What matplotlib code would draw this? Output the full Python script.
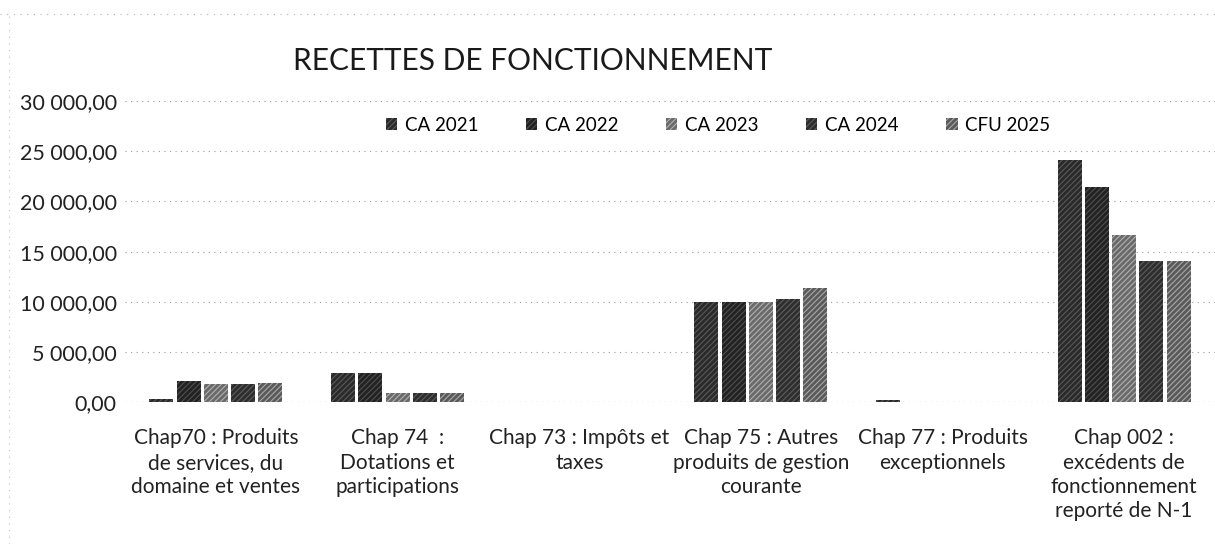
import matplotlib
matplotlib.use("Agg")
import matplotlib.pyplot as plt
import numpy as np
from matplotlib.ticker import FuncFormatter

plt.rcParams['font.family'] = ['Lato', 'DejaVu Sans']
plt.rcParams['hatch.linewidth'] = 0.8

# data
categories = [
    "Chap70 : Produits\nde services, du\ndomaine et ventes",
    "Chap 74  :\nDotations et\nparticipations",
    "Chap 73 : Impôts et\ntaxes",
    "Chap 75 : Autres\nproduits de gestion\ncourante",
    "Chap 77 : Produits\nexceptionnels",
    "Chap 002 :\nexcédents de\nfonctionnement\nreporté de N-1",
]
series = ["CA 2021", "CA 2022", "CA 2023", "CA 2024", "CFU 2025"]
ca_2021 = [300, 2850, 0, 9950, 200, 24150]
ca_2022 = [2100, 2850, 0, 9950, 0, 21400]
ca_2023 = [1750, 850, 0, 9950, 0, 16650]
ca_2024 = [1800, 850, 0, 10300, 0, 14100]
cfu_2025 = [1900, 850, 0, 11400, 0, 14100]
values = [ca_2021, ca_2022, ca_2023, ca_2024, cfu_2025]

colors = ['#2a2a2a', '#222222', '#6a6a6a', '#2e2e2e', '#5a5a5a']
hatch_colors = ['#5a5a5a', '#505050', '#b0b0b0', '#5e5e5e', '#a8a8a8']

fig = plt.figure(figsize=(12.15, 5.44), dpi=100)
ax = fig.add_axes([0.103, 0.261, 0.897, 0.553])

x = np.arange(len(categories))
w = 0.15
for i, (name, vals) in enumerate(zip(series, values)):
    ax.bar(x + (i - 2) * w, vals, width=w * 0.88, color=colors[i],
           edgecolor=hatch_colors[i], linewidth=0, hatch='//////', label=name)

ax.set_xlim(-0.5, len(categories) - 0.5)
ax.set_ylim(0, 30000)
ax.set_yticks(np.arange(0, 30001, 5000))
ax.yaxis.set_major_formatter(FuncFormatter(
    lambda v, p: f"{v:,.2f}".replace(",", " ").replace(".", ",")))
ax.set_xticks(x)
ax.set_xticklabels(categories, fontsize=15, color='#222222', linespacing=1.27)
ax.tick_params(axis='y', labelsize=15.5, labelcolor='#222222', length=0, pad=6)
ax.tick_params(axis='x', length=0, pad=19)

ax.grid(axis='y', color='#9a9a9a', linestyle=(0, (1, 4)), linewidth=0.8)
ax.set_axisbelow(True)
for s in ax.spines.values():
    s.set_visible(False)
ax.axhline(0, color='#9a9a9a', linestyle=(0, (1, 4)), linewidth=0.8)

fig.text(0.438, 0.888, "RECETTES DE FONCTIONNEMENT", fontsize=21.5,
         ha='center', va='center', color='#1a1a1a')

ax.legend(loc='center', bbox_to_anchor=(0.544, 0.92), ncol=5, frameon=False,
          fontsize=13.5, handlelength=0.6, handleheight=0.6, columnspacing=2.55,
          handletextpad=0.4)

# faint dotted border of the scanned chart area
fig.add_artist(plt.Line2D([0, 1], [0.975, 0.975], transform=fig.transFigure,
                          color='#b0b0b0', linestyle=(0, (1, 5)), linewidth=0.8))
fig.add_artist(plt.Line2D([0.007, 0.007], [0.0, 0.975], transform=fig.transFigure,
                          color='#c0c0c0', linestyle=(0, (1, 5)), linewidth=0.8))

fig.savefig("out.png", dpi=100)
